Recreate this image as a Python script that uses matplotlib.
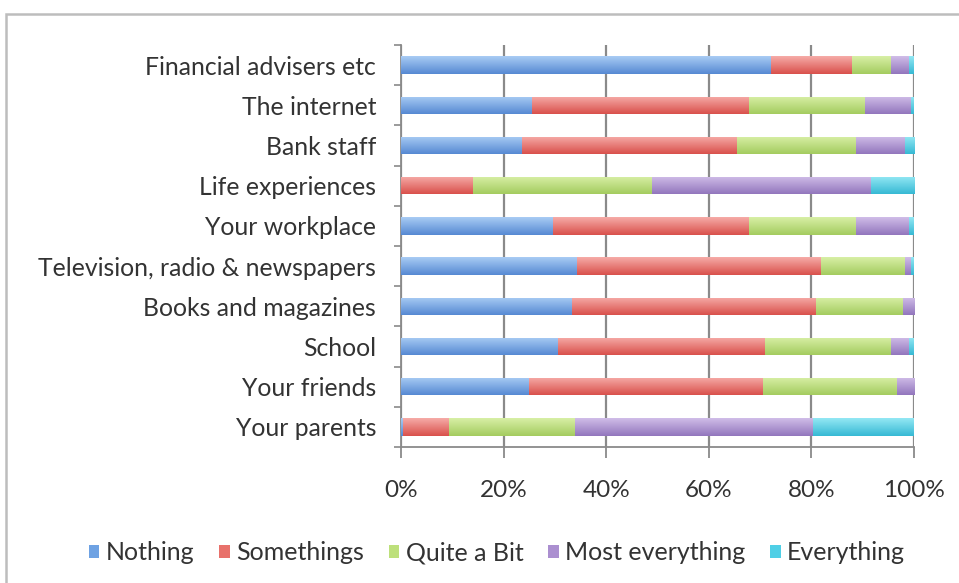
import numpy as np
import matplotlib.pyplot as plt
from matplotlib.patches import Rectangle
from matplotlib.colors import to_rgb

plt.rcParams['font.family'] = ['Lato', 'DejaVu Sans']

categories = ["Financial advisers etc", "The internet", "Bank staff", "Life experiences",
              "Your workplace", "Television, radio & newspapers", "Books and magazines",
              "School", "Your friends", "Your parents"]
series = ["Nothing", "Somethings", "Quite a Bit", "Most everything", "Everything"]

nothing = [72.2, 25.5, 23.6, 0.0, 29.7, 34.4, 33.4, 30.7, 25.0, 0.4]
somethings = [15.7, 42.4, 41.8, 14.1, 38.1, 47.5, 47.5, 40.2, 45.5, 9.0]
quite_a_bit = [7.7, 22.6, 23.2, 34.9, 20.8, 16.4, 16.9, 24.7, 26.1, 24.5]
most_everything = [3.5, 9.0, 9.6, 42.6, 10.5, 1.2, 2.2, 3.5, 3.4, 46.5]
everything = [0.9, 0.5, 1.8, 8.4, 0.9, 0.5, 0.0, 0.9, 0.0, 19.6]

# (top, bottom) shades for each series' gradient
shades = [("#a9ccf4", "#5689d3"), ("#f6aca8", "#d9504b"), ("#d8efa6", "#a4cc5f"),
          ("#d0bde8", "#9276bd"), ("#94e8f4", "#36b9d4")]
mids = ["#6ea2e3", "#e8716b", "#bde07b", "#ab8fd0", "#4fcfe6"]

fig = plt.figure(figsize=(9.59, 5.83), dpi=100)
fig.patches.append(Rectangle((6 / 959, -0.2), 1.2, 1.2 - 14 / 583, transform=fig.transFigure,
                             fill=False, edgecolor="#bdbdbd", linewidth=1.8))

ax = fig.add_axes([401 / 959, 1 - 447 / 583, 513 / 959, 402 / 583])

values = np.array([nothing, somethings, quite_a_bit, most_everything, everything])
y = np.arange(len(categories))[::-1]
height = 0.43

grad = np.linspace(0, 1, 64)[:, None]
left = np.zeros(len(categories))
for i, name in enumerate(series):
    bars = ax.barh(y, values[i], left=left, height=height, color=mids[i],
                   edgecolor="none", label=name, zorder=3)
    top, bot = np.array(to_rgb(shades[i][0])), np.array(to_rgb(shades[i][1]))
    img = (top[None, None, :] * (1 - grad[..., None]) + bot[None, None, :] * grad[..., None])
    for b in bars:
        if b.get_width() <= 0:
            continue
        x0, y0 = b.get_x(), b.get_y()
        im = ax.imshow(img, extent=(x0, x0 + b.get_width(), y0, y0 + b.get_height()),
                       aspect="auto", origin="upper", zorder=3.5, interpolation="bilinear")
        im.set_clip_path(b)
    left += values[i]

ax.set_xlim(0, 100)
ax.set_ylim(-0.5, len(categories) - 0.5)
ax.set_xticks(np.arange(0, 101, 20))
ax.set_xticklabels([f"{v}%" for v in range(0, 101, 20)])
ax.set_yticks(y)
ax.set_yticklabels(categories)
ax.set_yticks(np.arange(-0.5, len(categories), 1), minor=True)

ax.grid(axis="x", color="#8a8a8a", linewidth=1.6, zorder=1)
for s in ["top", "right"]:
    ax.spines[s].set_visible(False)
for s in ["left", "bottom"]:
    ax.spines[s].set_color("#8a8a8a")
    ax.spines[s].set_linewidth(1.3)

ax.tick_params(axis="y", which="major", length=0, pad=18, labelsize=17.8, labelcolor="#333333")
ax.tick_params(axis="y", which="minor", length=5, color="#8a8a8a", width=1.2)
ax.tick_params(axis="x", length=8, color="#8a8a8a", width=1.3, pad=16,
               labelsize=17.5, labelcolor="#333333")

fig.legend(loc="center", bbox_to_anchor=(497 / 959, 1 - 553 / 583), ncol=5, frameon=False,
           fontsize=18, handlelength=0.42, handleheight=0.42, handletextpad=0.25,
           columnspacing=1.0, labelcolor="#333333")

fig.savefig("out.png", dpi=100)
